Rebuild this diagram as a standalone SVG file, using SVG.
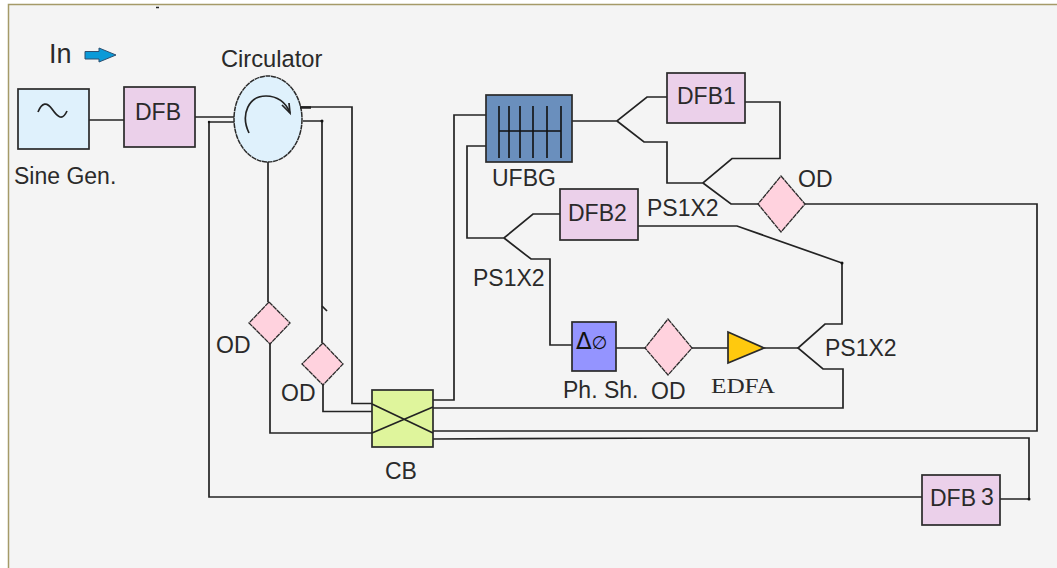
<svg xmlns="http://www.w3.org/2000/svg" width="1057" height="568" viewBox="0 0 1057 568">
<style>
.w{fill:none;stroke:#232323;stroke-width:1.7}
.b{stroke:#2a2a2a;stroke-width:1.7}
.d{fill:#ffd2de;stroke:#2a2a2a;stroke-width:1.3;stroke-dasharray:5 .6}
.df{fill:#ebd0ea}
.dot{fill:#111}
text{font-family:"Liberation Sans",Arial,sans-serif;font-size:23px;fill:#2a2a2a}
</style>
<rect x="0" y="0" width="1057" height="568" fill="#ffffff"/>
<rect x="8" y="4" width="1049" height="564" fill="#f4f4f4"/>
<path d="M8.500 568V4.500H1057" fill="none" stroke="#a59a68" stroke-width="1.500"/>
<path d="M156 7.500h3" stroke="#222" stroke-width="1.500"/>
<g id="connectors" class="w">
<path d="M89 120H124"/>
<path d="M195 117H234"/>
<path d="M234 122H209V497H923"/>
<path d="M300 107H352V403.500H372"/>
<path d="M303 121H322V343"/>
<path d="M322 306L327 311"/>
<path d="M268 162V302"/>
<path d="M270 344V433H372"/>
<path d="M323 385V411.500H372"/>
<path d="M433 400H454V115H486"/>
<path d="M486 146H467V238H504L533 214H560"/>
<path d="M504 238L531 259H550V345H572"/>
<path d="M572 121H617L647 97H667"/>
<path d="M617 121L644 142H667V183H703L732 158.500H780V102H745"/>
<path d="M703 183L731 204H758"/>
<path d="M805 204H1037V431H433"/>
<path d="M433 408H843V369H823L798 348L825 324H842V263L737 226H636"/>
<path d="M616 348H645M692 348H728M764 348H798"/>
<path d="M433 439L696 438H1029V499H1000"/>
</g>
<g id="sine-gen"><rect x="18" y="89" width="71" height="60" fill="#dff1fc" class="b"/><path d="M38 112C42 102 47 102 52 109S62 122 67 111" class="w"/><text x="14" y="184">Sine Gen.</text></g>
<g id="dfb"><rect x="124" y="87" width="71" height="60" class="df b"/><text x="135" y="120">DFB</text></g>
<g id="circulator"><ellipse cx="268" cy="119" rx="34" ry="43" fill="#dff1fc" stroke="#2a2a2a" stroke-width="1.500" stroke-dasharray="5 .6"/><path d="M249 133C240 114 249 96 266 96C277 96 286 102 290 113" class="w"/><path d="M282 105L290 113L289 103" class="w"/><path d="M300 107.500h11" stroke="#222" stroke-width="2.500"/><text x="221" y="67" style="font-size:23.700px">Circulator</text></g>
<g id="in"><text x="49" y="63" style="font-size:27px">In</text><path d="M85 51.500H99V48L116 55L99 62V59H85Z" fill="#0a9ad8" stroke="#2f4f6f" stroke-width="1"/></g>
<g id="od1"><path d="M269 302L290 323L270 344L249 323Z" class="d"/><text x="216" y="353">OD</text></g>
<g id="od2"><path d="M323 343L343 364L323 385L302 364Z" class="d"/><text x="281" y="401">OD</text></g>
<g id="cb"><rect x="372" y="390" width="61" height="57" fill="#dff59c" class="b"/><path d="M372 404L433 433M372 433L433 407" class="w"/><text x="385" y="479">CB</text></g>
<g id="ufbg"><rect x="486" y="95" width="86" height="67" fill="#6a8fbd" class="b"/><path d="M499 106V158M509 106V158M520 106V158M533 106V158M547 106V158M561 106V158M499 131H561" stroke="#111" stroke-width="1.600"/><text x="492" y="186">UFBG</text></g>
<g id="dfb1"><rect x="667" y="73" width="78" height="50" class="df b"/><text x="677" y="104">DFB1</text></g>
<g id="dfb2"><rect x="560" y="189" width="78" height="51" class="df b"/><text x="568" y="221">DFB2</text></g>
<g id="dfb3"><rect x="922" y="475" width="78" height="50" class="df b"/><text x="930" y="506">DFB</text><text x="981" y="505">3</text></g>
<g id="od3"><path d="M781 176L805 204L781 232L758 204Z" class="d"/><text x="798" y="187">OD</text></g>
<g id="od4"><path d="M668 319L692 348L668 375L645 348Z" class="d"/><text x="651" y="399">OD</text></g>
<g id="ph-sh"><rect x="572" y="322" width="44" height="49" fill="#9494ff" class="b"/><text x="576" y="349" style="font-family:'DejaVu Sans',sans-serif;font-size:23px;fill:#111">Δ<tspan style="font-size:18px">∅</tspan></text><text x="563" y="398">Ph. Sh.</text></g>
<g id="edfa"><path d="M728 332L764 348L728 363Z" fill="#ffc90e" class="b"/><text x="711" y="393" textLength="64" lengthAdjust="spacingAndGlyphs" style="font-family:'Liberation Serif',serif;font-size:22px">EDFA</text></g>
<g id="labels"><text x="647" y="216">PS1X2</text><text x="473" y="286">PS1X2</text><text x="825" y="356">PS1X2</text></g>
<circle class="dot" cx="842" cy="263" r="1.500"/><circle class="dot" cx="1029" cy="499" r="1.500"/><circle class="dot" cx="322" cy="121" r="1.500"/><circle class="dot" cx="209" cy="122" r="1.200"/>
</svg>
